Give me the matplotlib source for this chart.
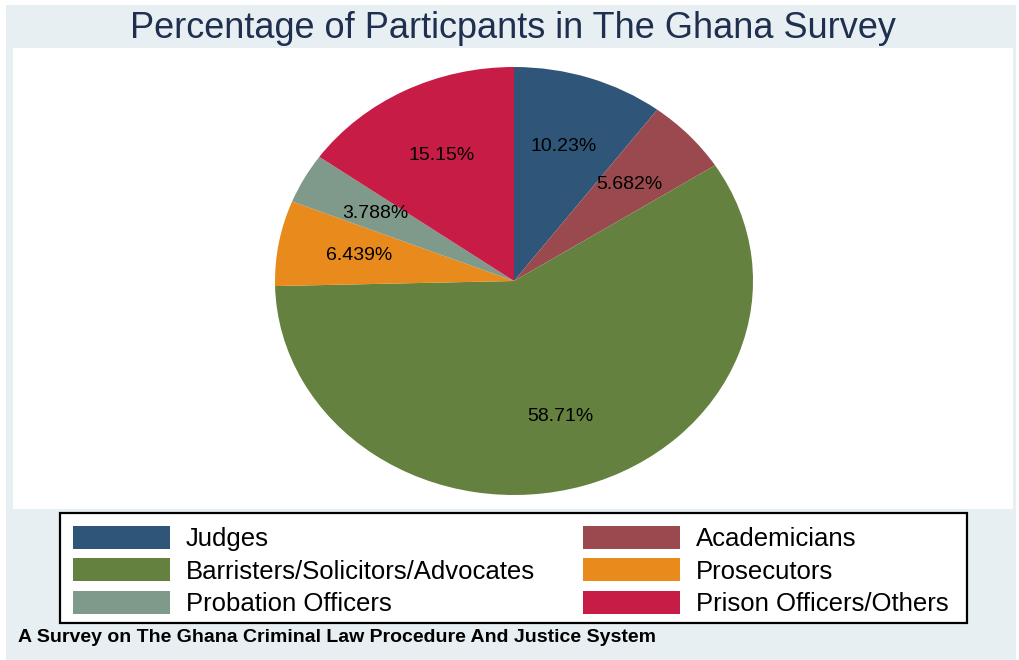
import numpy as np
import matplotlib.pyplot as plt
from matplotlib.patches import Patch, Rectangle

plt.rcParams["font.family"] = ["Liberation Sans", "DejaVu Sans"]

# participant groups, in the order they go round the pie (clockwise from 12 o'clock)
groups = ["Judges", "Academicians", "Barristers/Solicitors/Advocates",
          "Prosecutors", "Probation Officers", "Prison Officers/Others"]
shares = [10.23, 5.682, 58.71, 6.439, 3.788, 15.15]
slice_labels = ["10.23%", "5.682%", "58.71%", "6.439%", "3.788%", "15.15%"]
colors = ["#2f5679", "#9a4a4e", "#64813f", "#e88b1c", "#7f998b", "#c71c46"]

W, H = 1020, 660
fig = plt.figure(figsize=(W / 100, H / 100), dpi=100, facecolor="white")


def px_box(x0, y0, x1, y1):
    """pixel box (top-left origin) -> figure fraction rect"""
    return (x0 / W, 1 - y1 / H, (x1 - x0) / W, (y1 - y0) / H)


def add_rect(box, **kw):
    x, y, w, h = px_box(*box)
    fig.patches.append(Rectangle((x, y), w, h, transform=fig.transFigure, **kw))


# graph region, white plot region
add_rect((6, 5, 1016, 660), facecolor="#e8eff2", edgecolor="none", zorder=-3)
add_rect((13, 48, 1013, 509), facecolor="white", edgecolor="none", zorder=-2)

# pie (slightly wider than tall)
ax = fig.add_axes(px_box(275, 67, 753, 495))
wedges, _ = ax.pie(shares, colors=colors, startangle=90, counterclock=False,
                   radius=1, wedgeprops=dict(linewidth=0))
ax.set_xlim(-1, 1)
ax.set_ylim(-1, 1)
ax.set_aspect("auto")
ax.axis("off")

for wdg, lab in zip(wedges, slice_labels):
    mid = np.deg2rad((wdg.theta1 + wdg.theta2) / 2)
    ax.text(0.66 * np.cos(mid), 0.66 * np.sin(mid), lab, ha="center",
            va="center", fontsize=14, color="black")

fig.text(513 / W, 1 - 29 / H, "Percentage of Particpants in The Ghana Survey",
         ha="center", va="center", fontsize=26, color="#1f2f4f")

# legend box
add_rect((60, 513, 967, 623), facecolor="white", edgecolor="black",
         linewidth=1.6, zorder=-1)

handles = [Patch(facecolor=c, edgecolor="none") for c in colors]
# column-wise legend order: left column Judges, Barristers, Probation
order = [0, 2, 4, 1, 3, 5]
fs = 18.5
leg = fig.legend([handles[i] for i in order], [groups[i] for i in order],
                 ncol=2, loc="upper left",
                 bbox_to_anchor=(60 / W, 1 - 513 / H),
                 fontsize=fs, handlelength=3.77, handleheight=1.0,
                 handletextpad=0.62, labelspacing=0.28, columnspacing=1.87,
                 borderpad=0.5, borderaxespad=0, frameon=False)

fig.text(18 / W, 1 - 637 / H,
         "A Survey on The Ghana Criminal Law Procedure And Justice System",
         ha="left", va="center", fontsize=14, fontweight="bold",
         color="black")

fig.savefig("out.png", dpi=100, facecolor="white")
